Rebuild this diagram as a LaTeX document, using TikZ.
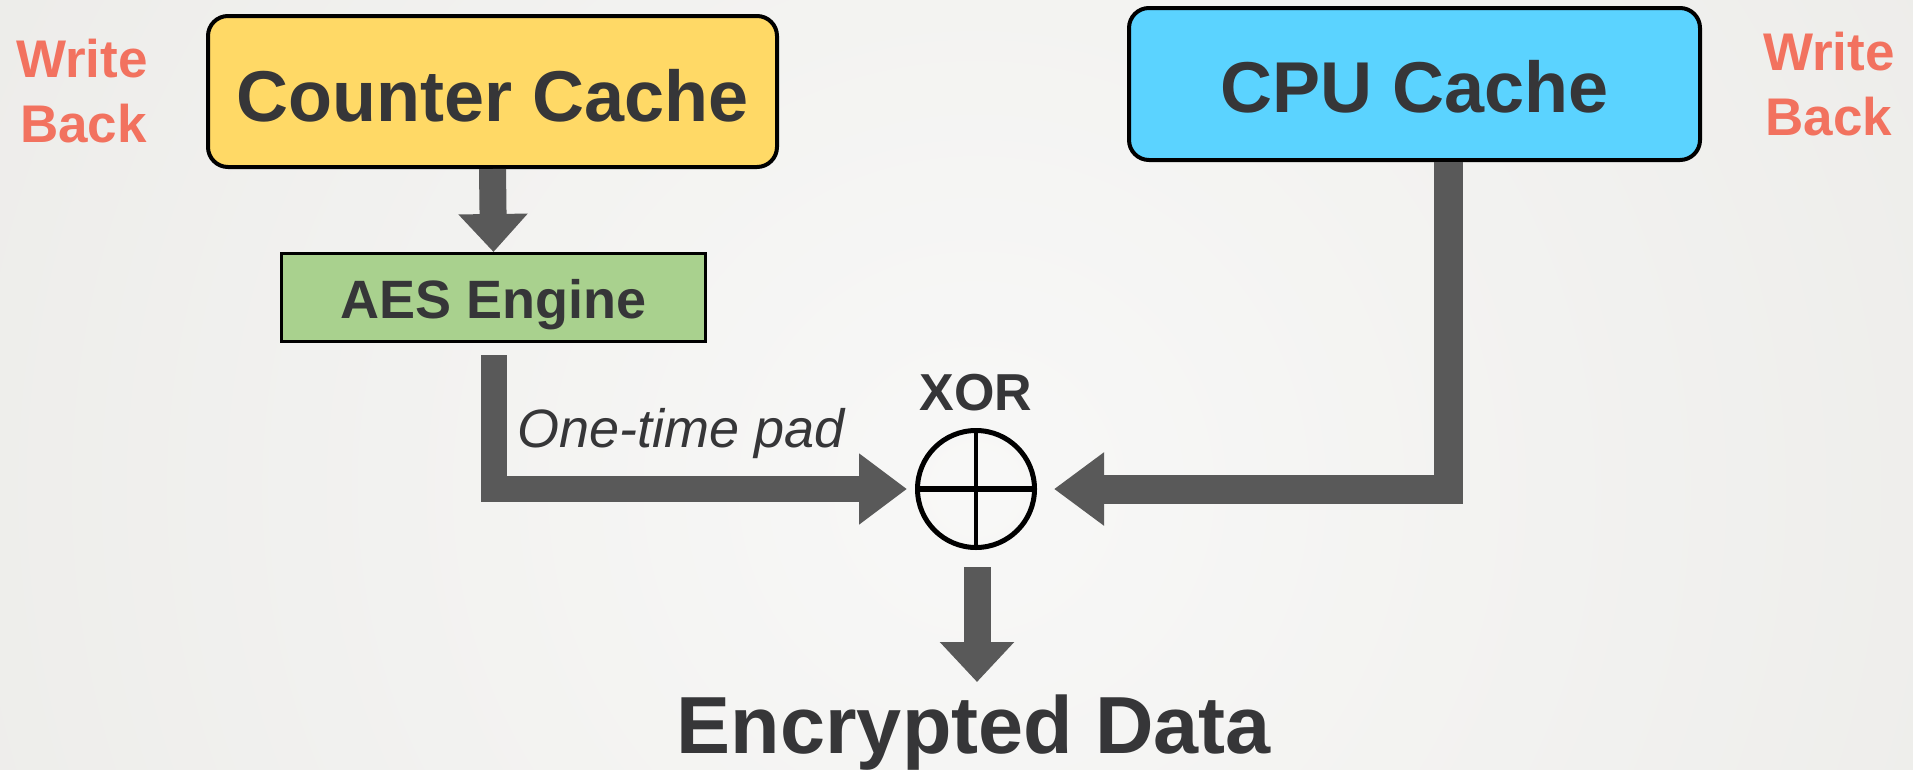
\documentclass[tikz,border=0pt]{standalone}
\usepackage{fontspec}
\setmainfont{Liberation Sans}
\usetikzlibrary{arrows.meta}
\definecolor{bgin}{HTML}{F8F8F7}
\definecolor{bgout}{HTML}{E4E3DF}
\definecolor{ccyellow}{HTML}{FFD966}
\definecolor{cpublue}{HTML}{5BD3FF}
\definecolor{aesgreen}{HTML}{A9D18E}
\definecolor{arrowgray}{HTML}{595959}
\definecolor{txtdark}{HTML}{363638}
\definecolor{wbred}{HTML}{F2725F}
\tikzset{
  bigbox/.style={draw=black, line width=4pt, rounded corners=20pt, inner sep=0pt, text=txtdark,
    font=\fontsize{72}{86}\selectfont\bfseries},
  aesbox/.style={draw=black, line width=3pt, inner sep=0pt, fill=aesgreen, text=txtdark,
    font=\fontsize{54}{64}\selectfont\bfseries},
  wbtext/.style={text=wbred, align=center, inner sep=0pt,
    font=\fontsize{53}{65}\selectfont\bfseries},
  flow/.style={draw=arrowgray, line join=miter, line cap=butt},
}
\begin{document}
\begin{tikzpicture}[x=1pt, y=-1pt]
\useasboundingbox (0,0) rectangle (1913,769);
\begin{scope}
\clip (0,0) rectangle (1913,769);
\shade[inner color=bgin, outer color=bgout] (976,489) circle (2000);
\end{scope}

% boxes
\node[bigbox, fill=ccyellow, minimum width=569pt, minimum height=151pt,
      text height=59pt, text depth=0pt] (cc) at (492.5,91.5) {Counter Cache};
\node[bigbox, fill=cpublue, minimum width=571pt, minimum height=152pt,
      text height=56pt, text depth=0pt] (cpu) at (1414.5,84) {CPU Cache};
\node[aesbox, minimum width=424pt, minimum height=88pt,
      text height=41pt, text depth=0pt] (aes) at (493.5,297.5) {AES Engine};

% write back labels
\node[wbtext, anchor=base] (wbl1) at (82,77) {Write};
\node[wbtext, anchor=base] (wbl2) at (83.5,142) {Back};
\node[wbtext, anchor=base] (wbr1) at (1829,70) {Write};
\node[wbtext, anchor=base] (wbr2) at (1829,135) {Back};

% XOR
\node[circle, draw=black, line width=5pt, minimum size=117pt, inner sep=0pt] (xor) at (976,489) {};
\draw[line width=6pt] (xor.west) -- (xor.east);
\draw[line width=4.5pt] (xor.north) -- (xor.south);
\node[anchor=base, text=txtdark, inner sep=0pt, font=\fontsize{52}{62}\selectfont\bfseries] (xorlbl) at (976,410) {XOR};

% one-time pad
\node[anchor=base, text=txtdark, inner sep=0pt, font=\fontsize{54}{64}\selectfont\itshape] (otp) at (681.5,447) {One-time pad};

% encrypted data
\node[anchor=base, text=txtdark, inner sep=0pt, font=\fontsize{81}{96}\selectfont\bfseries] (enc) at (974,753) {Encrypted Data};
\coordinate (dtip) at (977,682);

% connectors
\draw[flow, line width=27pt, -{Triangle[length=38pt, width=67pt]}] (cc.south) -- (aes.north);
\draw[flow, line width=26pt, -{Triangle[length=48pt, width=68pt]}]
  ([yshift=-12pt]aes.south) |- ([xshift=-8pt]xor.west);
\draw[flow, line width=29pt, -{Triangle[length=50pt, width=70pt]}]
  ([xshift=34pt]cpu.south) |- ([xshift=17pt]xor.east);
\draw[flow, line width=27pt, -{Triangle[length=40pt, width=72pt]}]
  ([yshift=-17pt,xshift=1pt]xor.south) -- (dtip);
\end{tikzpicture}
\end{document}
